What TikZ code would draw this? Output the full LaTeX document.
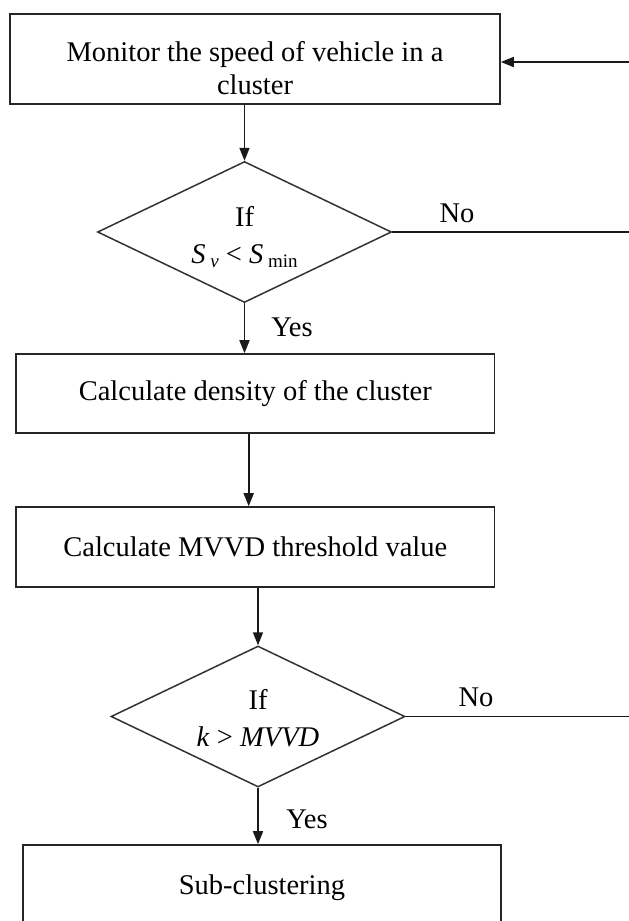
\documentclass[tikz,border=0pt]{standalone}
\usepackage{fontspec}
\setmainfont{Liberation Serif}
\usetikzlibrary{shapes.geometric,arrows.meta}
\tikzset{
  procbox/.style={draw=black!85, line width=1.6pt, rectangle, inner sep=0pt, align=center,
    font=\fontsize{28.5}{33}\selectfont},
  decis/.style={draw=black!80, line width=1.5pt, diamond, inner sep=0pt, shape aspect=2.08,
    minimum width=294pt, minimum height=141pt, align=center, font=\fontsize{28.5}{37}\selectfont},
  lbl/.style={inner sep=0pt, font=\fontsize{28.5}{33}\selectfont},
  conn/.style={line width=1.7pt, black!90},
  arr/.style={conn, -{Triangle[length=13pt,width=10pt]}}
}
\newcommand{\smallsub}[1]{\raisebox{-0.35ex}{\fontsize{19}{20}\selectfont #1}}
\begin{document}
\begin{tikzpicture}[x=1pt,y=-1pt]
\useasboundingbox (0,0) rectangle (629,921);
\clip (0,0) rectangle (629,921);
\fill[white] (0,0) rectangle (629,921);
\node[procbox, minimum width=490pt, minimum height=90pt] (b1) at (255,59)
  {\rule{0pt}{38pt}Monitor the speed of vehicle in a\\cluster};
\node[decis] (d1) at (244.5,232) {\rule{0pt}{30pt}If\\\textit{S}\,\smallsub{\textit{v}} < \textit{S}\,\smallsub{min}};
\node[procbox, minimum width=478.6pt, minimum height=79pt] (b2) at (255.3,393.5)
  {Calculate density of the cluster};
\node[procbox, minimum width=478.6pt, minimum height=80pt] (b3) at (255.3,547)
  {Calculate MVVD threshold value};
\node[decis] (d2) at (258,716.5) {\rule{0pt}{24pt}If\\\textit{k} > \textit{MVVD}};
\node[procbox, minimum width=478.5pt, minimum height=80pt, text depth=0pt] (b4) at (262,885)
  {Sub-clustering};
\coordinate (r1) at (629,62);
\coordinate (e1) at (629,232);
\coordinate (e2) at (629,716.5);
\node[lbl] (no1) at (457,213) {No};
\node[lbl] (yes1) at (292,327) {Yes};
\node[lbl] (no2) at (476,697) {No};
\node[lbl] (yes2) at (307,819) {Yes};
\draw[arr] (r1) -- (r1 -| b1.east);
\draw[arr] (b1.south -| d1.north) -- (d1.north);
\draw[conn] (d1.east) -- (e1);
\draw[arr] (d1.south) -- (d1.south |- b2.north);
\draw[arr] ([xshift=-6.6pt]b2.south) -- ([xshift=-6.6pt]b2.south |- b3.north);
\draw[arr] (b3.south -| d2.north) -- (d2.north);
\draw[conn] (d2.east) -- (e2);
\draw[arr] (d2.south) -- (d2.south |- b4.north);
\end{tikzpicture}
\end{document}
